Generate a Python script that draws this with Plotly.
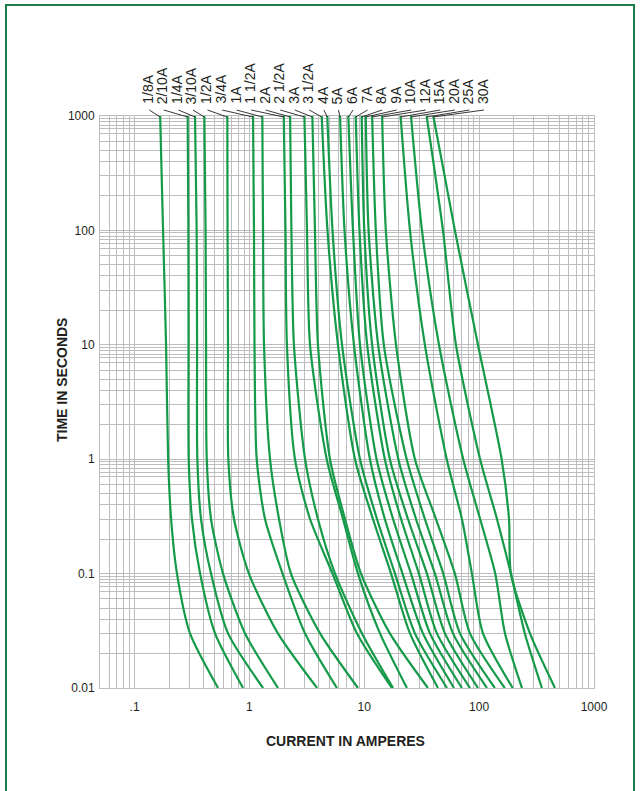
import math
import plotly.graph_objects as go

# ---------------- data ----------------
times = [1000, 100, 10, 1, 0.3, 0.1, 0.03, 0.01]   # seconds

labels = ["1/8A", "2/10A", "1/4A", "3/10A", "1/2A", "3/4A", "1A", "1 1/2A", "2A",
          "2 1/2A", "3A", "3 1/2A", "4A", "5A", "6A", "7A", "8A", "9A", "10A",
          "12A", "15A", "20A", "25A", "30A"]

# current (A) at each of the times above, per fuse rating
a_1_8 = [0.167, 0.177, 0.188, 0.196, 0.208, 0.234, 0.304, 0.533]
a_2_10 = [0.290, 0.294, 0.295, 0.296, 0.316, 0.372, 0.502, 0.880]
a_1_4 = [0.336, 0.347, 0.350, 0.352, 0.379, 0.463, 0.651, 1.315]
a_3_10 = [0.405, 0.415, 0.419, 0.425, 0.463, 0.589, 0.916, 1.774]
a_1_2 = [0.642, 0.645, 0.651, 0.655, 0.734, 0.99, 1.77, 3.88]
a_3_4 = [1.075, 1.096, 1.107, 1.157, 1.367, 1.942, 3.05, 5.78]
a_1 = [1.295, 1.313, 1.340, 1.511, 1.81, 2.30, 4.12, 8.81]
a_1_1_2 = [1.99, 2.06, 2.12, 2.49, 3.37, 5.29, 8.64, 17.4]
a_2 = [2.26, 2.32, 2.44, 3.05, 3.95, 5.56, 9.55, 17.8]
a_2_1_2 = [3.01, 3.17, 3.37, 4.71, 6.53, 8.81, 13.7, 23.5]
a_3 = [3.53, 3.72, 3.95, 5.03, 6.79, 9.36, 16.7, 35.8]
a_3_1_2 = [4.26, 4.78, 5.90, 8.30, 11.9, 17.1, 25.0, 43.8]
a_4 = [4.76, 5.29, 6.40, 9.18, 12.9, 18.5, 27.6, 52.5]
a_5 = [6.15, 6.73, 8.13, 11.2, 15.1, 21.5, 32.4, 60.4]
a_6 = [7.26, 7.97, 9.18, 12.8, 17.8, 25.5, 37.3, 70.8]
a_7 = [8.42, 9.08, 10.6, 15.1, 20.9, 29.9, 42.9, 83.2]
a_8 = [9.49, 10.0, 11.7, 16.7, 24.0, 35.1, 50.4, 97.8]
a_9 = [10.3, 10.9, 13.2, 19.8, 28.2, 41.2, 59.2, 117]
a_10 = [11.7, 12.6, 14.8, 23.4, 33.7, 48.7, 68.1, 137]
a_12 = [14.3, 15.4, 18.9, 27.6, 42.1, 61.5, 83.2, 167]
a_15 = [20.7, 25.0, 33.7, 52.2, 70.8, 86.5, 108, 196]
a_20 = [25.5, 31.8, 44.7, 72.7, 102, 138, 168, 236]
a_25 = [34.9, 48.4, 62.8, 102, 143, 189, 250, 352]
a_30 = [39.9, 61.5, 97.7, 157, 182, 189, 277, 457]

curves = [a_1_8, a_2_10, a_1_4, a_3_10, a_1_2, a_3_4, a_1, a_1_1_2, a_2,
          a_2_1_2, a_3, a_3_1_2, a_4, a_5, a_6, a_7, a_8, a_9, a_10,
          a_12, a_15, a_20, a_25, a_30]

x_ticks = [0.1, 1, 10, 100, 1000]
x_tick_text = [".1", "1", "10", "100", "1000"]
y_ticks = [0.01, 0.1, 1, 10, 100, 1000]
y_tick_text = ["0.01", "0.1", "1", "10", "100", "1000"]

# ---------------- styling / geometry ----------------
GREEN = "#149a48"
GRID = "#bdbdbd"
TXT = "#231f20"
FONT = "Liberation Sans, Arial, sans-serif"

W, H = 640, 791
L, R, T, B = 100, 46, 116, 103
PW, PH = W - L - R, H - T - B
XMIN, XMAX = 0.05, 1000
YMIN, YMAX = 0.01, 1000


def px_x(px):
    return (px - L) / PW


def px_y(py):
    return (H - B - py) / PH


def val_x(v):
    return (math.log10(v) - math.log10(XMIN)) / (math.log10(XMAX) - math.log10(XMIN))


fig = go.Figure()
for lab, amps in zip(labels, curves):
    fig.add_trace(go.Scatter(
        x=amps, y=times, mode="lines", name=lab, showlegend=False,
        hoverinfo="skip",
        line=dict(color=GREEN, width=2.2, shape="spline", smoothing=0.7),
    ))

x_minor = [k * 10 ** e for e in range(-2, 3) for k in range(2, 10)
           if XMIN <= k * 10 ** e < XMAX]
y_mult = [0.2, 0.3, 0.4, 0.5, 0.6, 0.7, 0.77, 0.83, 0.89, 0.95]
y_minor = [m * 10 ** e for e in range(-1, 4) for m in y_mult]

axis_common = dict(
    type="log", showgrid=True, gridcolor=GRID, gridwidth=1,
    showline=True, linecolor=GRID, linewidth=1, mirror=True,
    ticks="", zeroline=False,
    tickfont=dict(family=FONT, size=12, color=TXT),
)

fig.update_xaxes(
    range=[math.log10(XMIN), math.log10(XMAX)],
    tickmode="array", tickvals=x_ticks, ticktext=x_tick_text,
    minor=dict(tickmode="array", tickvals=x_minor, showgrid=True,
               gridcolor=GRID, gridwidth=1, ticks=""),
    ticklabelstandoff=8,
    **axis_common,
)
fig.update_yaxes(
    range=[math.log10(YMIN), math.log10(YMAX)],
    tickmode="array", tickvals=y_ticks, ticktext=y_tick_text,
    minor=dict(tickmode="array", tickvals=y_minor, showgrid=True,
               gridcolor=GRID, gridwidth=1, ticks=""),
    ticklabelstandoff=2,
    **axis_common,
)

annotations = []
shapes = []
for i, (lab, amps) in enumerate(zip(labels, curves)):
    lx = 148.3 + i * 14.55
    annotations.append(dict(
        text=lab, x=px_x(lx), y=px_y(106), xref="paper", yref="paper",
        textangle=-90, xanchor="center", yanchor="bottom", showarrow=False,
        font=dict(family=FONT, size=14, color=TXT),
    ))
    shapes.append(dict(
        type="line", xref="paper", yref="paper",
        x0=px_x(lx + 1), y0=px_y(110), x1=val_x(amps[0]), y1=px_y(117),
        line=dict(color=TXT, width=0.9),
    ))

annotations.append(dict(
    text="<b>TIME IN SECONDS</b>", x=px_x(62), y=px_y(380), xref="paper", yref="paper",
    textangle=-90, showarrow=False, xanchor="center", yanchor="middle",
    font=dict(family=FONT, size=14, color=TXT),
))
annotations.append(dict(
    text="<b>CURRENT IN AMPERES</b>", x=px_x(345), y=px_y(741), xref="paper", yref="paper",
    showarrow=False, xanchor="center", yanchor="middle",
    font=dict(family=FONT, size=14, color=TXT),
))

shapes.append(dict(
    type="rect", xref="paper", yref="paper",
    x0=px_x(6), x1=px_x(634), y0=px_y(5), y1=px_y(800),
    line=dict(color="#1b7d4c", width=2), fillcolor="rgba(0,0,0,0)", layer="above",
))

fig.update_layout(
    width=W, height=H, autosize=False,
    margin=dict(l=L, r=R, t=T, b=B, pad=0),
    paper_bgcolor="white", plot_bgcolor="white",
    annotations=annotations, shapes=shapes,
    font=dict(family=FONT, color=TXT),
)

fig.write_html("out.html", config={"displayModeBar": False},
               post_script="document.body.style.margin='0px';")
